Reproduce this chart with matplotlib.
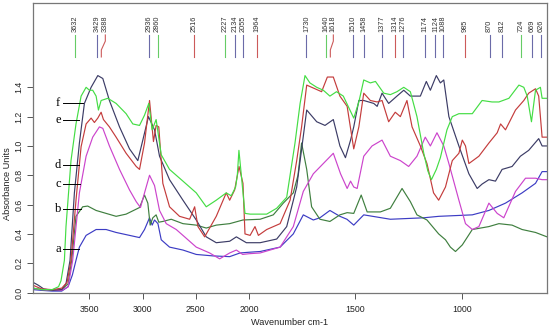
import numpy as np
import matplotlib.pyplot as plt

# IR spectra a-f (wavenumber cm-1, absorbance)
a_wn = [4030, 3950, 3850, 3760, 3700, 3660, 3626, 3594, 3531, 3437, 3343, 3249, 3123, 3029, 2982,
        2935, 2910, 2888, 2856, 2825, 2747, 2621, 2496, 2339, 2182, 2085, 2000, 1948, 1854, 1792,
        1745, 1698, 1667, 1620, 1573, 1540, 1508, 1461, 1336, 1179, 1108, 951, 873, 795, 717,
        654, 623, 600]
a_ab = [0.02, 0.015, 0.01, 0.01, 0.04, 0.12, 0.22, 0.31, 0.39, 0.43, 0.43, 0.41, 0.39, 0.375, 0.43,
        0.51, 0.46, 0.495, 0.47, 0.36, 0.31, 0.29, 0.26, 0.25, 0.245, 0.27, 0.275, 0.28, 0.31, 0.40,
        0.53, 0.495, 0.51, 0.56, 0.52, 0.50, 0.46, 0.53, 0.50, 0.51, 0.52, 0.53, 0.56, 0.61, 0.68,
        0.745, 0.825, 0.825]

b_wn = [4030, 3950, 3850, 3760, 3700, 3666, 3626, 3563, 3516, 3437, 3343, 3249, 3155, 3029, 2982,
        2951, 2929, 2904, 2873, 2848, 2810, 2731, 2621, 2496, 2402, 2308, 2182, 2057, 1948, 1886,
        1839, 1792, 1770, 1753, 1729, 1706, 1667, 1620, 1573, 1539, 1508, 1473, 1445, 1383, 1336,
        1281, 1242, 1211, 1164, 1109, 1077, 1054, 1030, 998, 951, 873, 826, 764, 717, 654, 600]
b_ab = [0.03, 0.02, 0.015, 0.02, 0.06, 0.22, 0.52, 0.585, 0.59, 0.56, 0.54, 0.52, 0.535, 0.58, 0.665,
        0.61, 0.46, 0.51, 0.53, 0.48, 0.485, 0.50, 0.47, 0.46, 0.44, 0.46, 0.47, 0.495, 0.50, 0.53,
        0.61, 0.68, 0.80, 1.02, 0.84, 0.585, 0.50, 0.485, 0.53, 0.545, 0.54, 0.665, 0.55, 0.55, 0.575,
        0.71, 0.62, 0.53, 0.495, 0.40, 0.36, 0.31, 0.28, 0.325, 0.43, 0.45, 0.47, 0.46, 0.43, 0.41, 0.38]

c_wn = [4030, 3950, 3850, 3760, 3700, 3657, 3594, 3531, 3469, 3406, 3374, 3312, 3217, 3123, 3060,
        3020, 2982, 2935, 2888, 2841, 2778, 2684, 2621, 2496, 2370, 2276, 2182, 2119, 2060, 2000,
        1948, 1854, 1792, 1745, 1698, 1604, 1570, 1539, 1523, 1508, 1492, 1461, 1422, 1375, 1336,
        1289, 1250, 1211, 1172, 1148, 1117, 1085, 1061, 1014, 983, 951, 920, 873, 834, 803,
        748, 701, 654, 623, 600]
c_ab = [0.03, 0.02, 0.015, 0.015, 0.04, 0.22, 0.68, 0.93, 1.06, 1.13, 1.12, 1.0, 0.84, 0.70, 0.62,
        0.58, 0.68, 0.80, 0.73, 0.56, 0.47, 0.43, 0.39, 0.31, 0.27, 0.23, 0.27, 0.29, 0.26, 0.265,
        0.27, 0.31, 0.45, 0.69, 0.81, 0.95, 0.81, 0.71, 0.76, 0.72, 0.71, 0.93, 1.0, 1.04, 0.93,
        0.90, 0.86, 0.93, 1.06, 1.0, 1.09, 1.0, 0.88, 0.63, 0.47, 0.43, 0.45, 0.61, 0.54, 0.51,
        0.69, 0.78, 0.78, 0.77, 0.77]

d_wn = [4030, 3980, 3930, 3850, 3760, 3720, 3682, 3641, 3594, 3547, 3484, 3421, 3374, 3312, 3217,
        3123, 3045, 2998, 2945, 2888, 2841, 2747, 2621, 2496, 2402, 2308, 2182, 2119, 2072, 2025,
        1948, 1870, 1823, 1776, 1729, 1682, 1643, 1604, 1573, 1547, 1523, 1508, 1484, 1461, 1414,
        1398, 1375, 1344, 1305, 1273, 1242, 1195, 1167, 1148, 1120, 1101, 1085, 1061, 1014, 967,
        928, 905, 873, 842, 811, 764, 725, 686, 639, 623, 600]
d_ab = [0.07, 0.05, 0.025, 0.015, 0.02, 0.06, 0.22, 0.68, 1.02, 1.29, 1.40, 1.48, 1.46, 1.31, 1.13,
        0.98, 0.90, 1.04, 1.20, 1.11, 0.93, 0.77, 0.63, 0.495, 0.38, 0.34, 0.35, 0.38, 0.36, 0.34,
        0.34, 0.365, 0.45, 0.72, 1.245, 1.165, 1.14, 1.18, 1.0, 0.92, 1.04, 1.13, 1.31, 1.31, 1.29,
        1.27, 1.36, 1.29, 1.34, 1.38, 1.34, 1.34, 1.44, 1.38, 1.48, 1.43, 1.45, 1.2, 1.0, 0.81,
        0.71, 0.74, 0.77, 0.76, 0.84, 0.86, 0.93, 0.97, 1.05, 1.0, 1.0]

e_wn = [4030, 3950, 3850, 3760, 3710, 3673, 3626, 3578, 3531, 3484, 3453, 3421, 3390, 3368, 3312,
        3249, 3155, 3060, 3029, 2982, 2935, 2898, 2873, 2848, 2810, 2747, 2653, 2558, 2511, 2480,
        2417, 2308, 2214, 2182, 2135, 2094, 2057, 2038, 1995, 1972, 1956, 1917, 1854, 1807, 1776,
        1753, 1729, 1690, 1659, 1632, 1604, 1573, 1539, 1508, 1484, 1461, 1430, 1398, 1375, 1344,
        1313, 1289, 1258, 1234, 1195, 1164, 1133, 1109, 1077, 1045, 1014, 998, 983, 967, 920,
        873, 834, 818, 795, 748, 709, 686, 654, 639, 623, 600]
e_ab = [0.05, 0.025, 0.02, 0.03, 0.07, 0.22, 0.63, 0.995, 1.15, 1.19, 1.16, 1.19, 1.23, 1.18, 1.13,
        1.06, 0.95, 0.86, 0.84, 1.02, 1.31, 1.03, 1.14, 1.13, 0.745, 0.585, 0.52, 0.50, 0.585, 0.45,
        0.38, 0.52, 0.68, 0.63, 0.70, 0.86, 0.745, 0.40, 0.39, 0.45, 0.39, 0.43, 0.47, 0.63, 0.90,
        1.13, 1.415, 1.39, 1.37, 1.47, 1.47, 1.34, 1.27, 0.98, 1.13, 1.36, 1.31, 1.30, 1.31, 1.165,
        1.23, 1.20, 1.31, 1.13, 1.0, 0.88, 0.68, 0.63, 0.72, 0.90, 0.95, 1.04, 1.0, 0.88, 0.93,
        1.02, 1.09, 1.15, 1.11, 1.245, 1.31, 1.36, 1.39, 1.34, 1.06, 1.06]

f_wn = [4030, 3950, 3850, 3790, 3767, 3735, 3720, 3673, 3626, 3578, 3531, 3500, 3469, 3437, 3415,
        3390, 3327, 3249, 3155, 3092, 3029, 2982, 2942, 2910, 2873, 2825, 2747, 2621, 2496, 2402,
        2308, 2214, 2167, 2126, 2110, 2095, 2075, 2038, 1995, 1917, 1870, 1823, 1784, 1760, 1737,
        1714, 1682, 1651, 1620, 1589, 1557, 1526, 1508, 1484, 1461, 1430, 1406, 1367, 1336, 1305,
        1273, 1242, 1211, 1179, 1160, 1143, 1120, 1101, 1070, 1045, 1014, 951, 905, 858, 826,
        779, 732, 709, 693, 673, 654, 631, 623, 600]
f_ab = [0.03, 0.02, 0.02, 0.04, 0.08, 0.22, 0.45, 0.90, 1.15, 1.34, 1.40, 1.38, 1.38, 1.34, 1.245,
        1.31, 1.325, 1.29, 1.22, 1.15, 1.14, 1.21, 1.29, 1.11, 1.18, 0.94, 0.84, 0.76, 0.68, 0.585,
        0.63, 0.68, 0.66, 0.72, 0.80, 0.97, 0.82, 0.54, 0.535, 0.535, 0.575, 0.65, 1.02, 1.29, 1.48,
        1.43, 1.40, 1.38, 1.34, 1.37, 1.34, 1.245, 1.19, 1.30, 1.45, 1.43, 1.44, 1.36, 1.35, 1.37,
        1.40, 1.37, 1.2, 0.95, 0.83, 0.77, 0.84, 0.92, 1.11, 1.2, 1.22, 1.22, 1.31, 1.30, 1.30,
        1.325, 1.415, 1.40, 1.34, 1.165, 1.38, 1.40, 1.325, 1.325]

series = [('a', a_wn, a_ab, '#3c3cc4'),
          ('b', b_wn, b_ab, '#3f7f3f'),
          ('c', c_wn, c_ab, '#cc44cc'),
          ('d', d_wn, d_ab, '#3c3c66'),
          ('e', e_wn, e_ab, '#c43c3c'),
          ('f', f_wn, f_ab, '#44dd44')]

# band markers along the top
marker_wn = [3632, 3429, 3388, 2936, 2860, 2516, 2227, 2134, 2055, 1964, 1730, 1640, 1618, 1510,
             1458, 1377, 1314, 1276, 1174, 1124, 1088, 985, 870, 812, 724, 669, 626]
marker_kind = ['g', 'b', 'r', 'b', 'g', 'r', 'g', 'b', 'b', 'r', 'b', 'g', 'r', 'b',
               'b', 'b', 'r', 'b', 'b', 'b', 'b', 'r', 'b', 'b', 'g', 'b', 'b']
marker_colors = {'g': '#66cc66', 'b': '#6b6ba8', 'r': '#cc5a5a'}
label_shift_px = {3388: 4, 1618: 3}

# curve letters: label y and where the pointer meets the curve
letter_y = {'f': 1.295, 'e': 1.18, 'd': 0.87, 'c': 0.74, 'b': 0.57, 'a': 0.30}
letter_end = {'f': 3560, 'e': 3600, 'd': 3594, 'c': 3590, 'b': 3580, 'a': 3594}


def fwd(w):
    w = np.asarray(w, dtype=float)
    return np.where(w > 2000, 2000 + (w - 2000) / 2, w)


def inv(p):
    p = np.asarray(p, dtype=float)
    return np.where(p > 2000, 2000 + (p - 2000) * 2, p)


plt.rcParams['font.family'] = ['Liberation Sans', 'DejaVu Sans']
fig = plt.figure(figsize=(5.5, 3.29), dpi=100)
ax = fig.add_axes([33 / 550, 1 - 293 / 329, 514 / 550, 290 / 329])
ax.set_xscale('function', functions=(fwd, inv))
ax.set_xlim(4030, 600)
ax.set_ylim(-0.003, 1.975)

for name, wn, ab, col in series:
    ax.plot(wn, ab, color=col, lw=0.85)

for name, y in letter_y.items():
    ax.text(3795, y, name, family=['Liberation Serif', 'DejaVu Serif'], fontsize=9,
            ha='center', va='center', color='black')
    ax.plot([3750, letter_end[name]], [y, y], color='black', lw=0.7)

y_lo, y_mid1, y_mid2, y_hi = 1.607, 1.655, 1.715, 1.757
for w, k in zip(marker_wn, marker_kind):
    col = marker_colors[k]
    shift = label_shift_px.get(w, 0)
    if shift:
        xd = ax.transData.transform((w, 1.0))[0]
        wl = ax.transData.inverted().transform((xd + shift, 1.0))[0]
        ax.plot([w, w, wl, wl], [y_lo, y_mid1, y_mid2, y_hi], color=col, lw=0.8)
    else:
        wl = w
        ax.plot([w, w], [y_lo, y_hi], color=col, lw=0.8)
    ax.text(wl, 1.775, str(w), rotation=90, fontsize=5.3, ha='center', va='bottom', color='#333333')

ax.set_xticks([3500, 3000, 2500, 2000, 1500, 1000])
ax.set_xticklabels(['3500', '3000', '2500', '2000', '1500', '1000'])
ax.set_yticks(np.arange(0, 1.41, 0.2))
ax.set_yticklabels([f'{v:.1f}' for v in np.arange(0, 1.41, 0.2)], rotation=90, va='center')
ax.tick_params(axis='both', labelsize=6.3, colors='#555555', labelcolor='#222222', length=4, width=0.7)
ax.tick_params(axis='x', pad=5)
ax.tick_params(axis='y', pad=3)
for sp in ax.spines.values():
    sp.set_color('#777777')
    sp.set_linewidth(0.9)

ax.set_xlabel('Wavenumber cm-1', fontsize=6.6, color='#222222')
ax.xaxis.set_label_coords(0.5, -0.085)
ax.set_ylabel('Absorbance Units', fontsize=6.6, color='#222222')
ax.yaxis.set_label_coords(-0.04, 0.376)

fig.savefig('out.png', dpi=100)
